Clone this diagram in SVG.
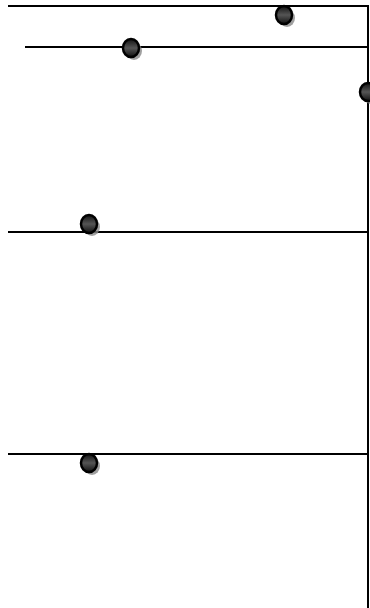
<svg xmlns="http://www.w3.org/2000/svg" width="370" height="608" viewBox="0 0 370 608">
<style>
.ln{stroke:#000;stroke-width:2;fill:none}
.dot{fill:url(#g);stroke:#000;stroke-width:2.5}
.sh{fill:#888;opacity:0.8}
</style>
<defs>
<linearGradient id="g" x1="0" y1="0" x2="0" y2="1">
<stop offset="0" stop-color="#111"/>
<stop offset="0.5" stop-color="#555"/>
<stop offset="1" stop-color="#111"/>
</linearGradient>
</defs>
<g id="connectors">
<path class="ln" d="M8 6H368V608"/>
<path class="ln" d="M25 47H368"/>
<path class="ln" d="M8 232H368"/>
<path class="ln" d="M8 454H368"/>
</g>
<g id="n1"><ellipse class="sh" cx="287" cy="18" rx="8" ry="9"/><ellipse class="dot" cx="284" cy="15" rx="8" ry="9"/></g>
<g id="n2"><ellipse class="sh" cx="134" cy="51" rx="8" ry="9"/><ellipse class="dot" cx="131" cy="48" rx="8" ry="9"/></g>
<g id="n3"><ellipse class="sh" cx="371" cy="95" rx="8" ry="9"/><ellipse class="dot" cx="368" cy="92" rx="8" ry="9"/></g>
<g id="n4"><ellipse class="sh" cx="92" cy="227" rx="8" ry="9"/><ellipse class="dot" cx="89" cy="224" rx="8" ry="9"/></g>
<g id="n5"><ellipse class="sh" cx="92" cy="466" rx="8" ry="9"/><ellipse class="dot" cx="89" cy="463" rx="8" ry="9"/></g>
</svg>
